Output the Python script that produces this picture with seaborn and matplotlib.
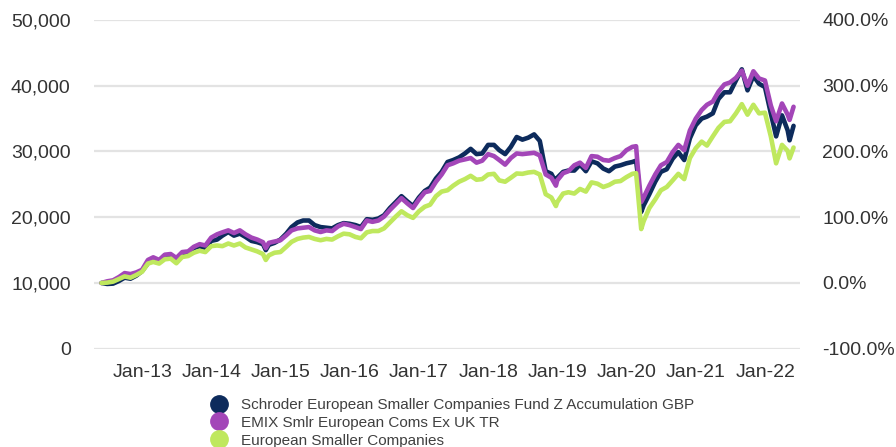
import matplotlib
matplotlib.use("Agg")
import matplotlib.pyplot as plt
from matplotlib.ticker import FuncFormatter, FixedLocator
from matplotlib.lines import Line2D
import pandas as pd
import seaborn as sns

dates = [
    "2012-05-31", "2012-06-30", "2012-07-31", "2012-08-31", "2012-09-30", "2012-10-31", "2012-11-30", "2012-12-31",
    "2013-01-31", "2013-02-28", "2013-03-31", "2013-04-30", "2013-05-31", "2013-06-30", "2013-07-31", "2013-08-31",
    "2013-09-30", "2013-10-31", "2013-11-30", "2013-12-31",
    "2014-01-31", "2014-02-28", "2014-03-31", "2014-04-30", "2014-05-31", "2014-06-30", "2014-07-31", "2014-08-31",
    "2014-09-30", "2014-10-15", "2014-10-31", "2014-11-30", "2014-12-31",
    "2015-01-31", "2015-02-28", "2015-03-31", "2015-04-30", "2015-05-31", "2015-06-30", "2015-07-31", "2015-08-31",
    "2015-09-30", "2015-10-31", "2015-11-30", "2015-12-31",
    "2016-01-31", "2016-02-29", "2016-03-31", "2016-04-30", "2016-05-31", "2016-06-30", "2016-07-31", "2016-08-31",
    "2016-09-30", "2016-10-31", "2016-11-30", "2016-12-31",
    "2017-01-31", "2017-02-28", "2017-03-31", "2017-04-30", "2017-05-31", "2017-06-30", "2017-07-31", "2017-08-31",
    "2017-09-30", "2017-10-31", "2017-11-30", "2017-12-31",
    "2018-01-31", "2018-02-28", "2018-03-31", "2018-04-30", "2018-05-31", "2018-06-30", "2018-07-31", "2018-08-31",
    "2018-09-30", "2018-10-31", "2018-11-30", "2018-12-24", "2018-12-31",
    "2019-01-31", "2019-02-28", "2019-03-31", "2019-04-30", "2019-05-31", "2019-06-30", "2019-07-31", "2019-08-31",
    "2019-09-30", "2019-10-31", "2019-11-30", "2019-12-31",
    "2020-01-31", "2020-02-20", "2020-02-29", "2020-03-18", "2020-03-31", "2020-04-30", "2020-05-31", "2020-06-30",
    "2020-07-31", "2020-08-31", "2020-09-30", "2020-10-31", "2020-11-30", "2020-12-31",
    "2021-01-31", "2021-02-28", "2021-03-31", "2021-04-30", "2021-05-31", "2021-06-30", "2021-07-31", "2021-08-31",
    "2021-09-30", "2021-10-31", "2021-11-30", "2021-12-31",
    "2022-01-31", "2022-02-28", "2022-03-31", "2022-04-30", "2022-05-10", "2022-05-31",
]

fund = [
    10.0, 9.85, 9.9, 10.3, 10.8, 10.65, 11.1, 11.8,
    13.0, 13.6, 13.3, 14.0, 14.2, 13.6, 14.5, 14.6, 15.3, 15.6, 15.3, 16.4,
    16.6, 17.2, 17.75, 17.2, 17.5, 17.0, 16.4, 16.2, 15.9, 15.0, 15.8, 16.1, 16.6,
    17.5, 18.5, 19.2, 19.5, 19.5, 18.8, 18.5, 18.4, 18.3, 18.8, 19.1, 19.0,
    18.8, 18.5, 19.7, 19.6, 19.8, 20.3, 21.4, 22.3, 23.2, 22.4, 21.7, 23.0,
    24.0, 24.5, 25.9, 26.9, 28.4, 28.7, 29.1, 29.7, 30.4, 29.6, 29.7, 31.0,
    31.0, 30.2, 29.6, 30.7, 32.2, 31.8, 32.1, 32.6, 31.6, 27.0, 26.6, 25.3, 26.0,
    26.9, 27.1, 27.1, 28.0, 27.0, 28.5, 28.2, 27.4, 27.0, 27.7, 27.9, 28.2,
    28.4, 28.6, 26.5, 20.8, 21.8, 23.5, 25.4, 26.9, 27.3, 28.9, 29.9, 28.7, 32.0, 34.0,
    35.0, 35.3, 35.8, 38.0, 39.0, 39.0, 40.8, 42.5, 39.3, 41.5, 40.3, 39.8,
    35.8, 32.3, 35.5, 33.2, 31.7, 33.9,
]

index = [
    10.0, 10.25, 10.4, 10.9, 11.5, 11.35, 11.6, 12.0,
    13.5, 13.9, 13.5, 14.3, 14.4, 13.8, 14.7, 14.8, 15.5, 15.9, 15.7, 16.9,
    17.4, 17.7, 18.0, 17.6, 18.0, 17.4, 16.9, 16.6, 16.2, 15.3, 16.1, 16.3, 16.5,
    17.25, 18.0, 18.3, 18.4, 18.5, 18.0, 17.75, 18.0, 17.9, 18.6, 19.0, 18.8,
    18.5, 18.2, 19.5, 19.3, 19.5, 20.1, 21.1, 22.0, 22.9, 22.1, 21.4, 22.7,
    23.8, 24.0, 25.4, 26.5, 27.9, 28.2, 28.6, 28.8, 29.0, 28.3, 28.6, 29.6,
    29.3, 28.7, 28.0, 29.0, 29.7, 29.6, 29.7, 29.8, 29.4, 26.5, 26.0, 24.8, 25.6,
    26.7, 27.0, 27.9, 28.3, 27.5, 29.3, 29.2, 28.7, 28.6, 29.0, 29.3, 30.2,
    30.7, 30.8, 27.5, 22.3, 23.0, 24.8, 26.5, 27.9, 28.4, 29.9, 31.0, 30.2, 33.2, 35.0,
    36.3, 37.1, 37.6, 39.1, 40.2, 40.5, 41.2, 42.3, 40.0, 42.2, 41.1, 40.8,
    37.0, 34.6, 37.3, 35.6, 34.8, 36.8,
]

sector = [
    10.0, 10.05, 10.2, 10.6, 11.0, 10.8, 11.2, 11.7,
    12.95, 13.2, 12.95, 13.6, 13.7, 13.0, 13.95, 14.1, 14.6, 14.9, 14.7, 15.6,
    15.7, 15.6, 16.0, 15.7, 16.0, 15.4, 15.1, 14.8, 14.4, 13.5, 14.2, 14.6, 14.7,
    15.5, 16.25, 16.7, 16.9, 17.0, 16.7, 16.5, 16.7, 16.6, 17.1, 17.5, 17.4,
    17.0, 16.8, 17.7, 17.9, 17.9, 18.3, 19.2, 20.1, 20.9, 20.3, 19.9, 20.9,
    21.6, 21.9, 23.2, 23.9, 24.1, 24.8, 25.4, 25.8, 26.3, 25.7, 25.8, 26.5,
    26.6, 25.6, 25.4, 26.0, 26.65, 26.6, 26.8, 26.9, 26.5, 23.5, 23.0, 21.7, 22.3,
    23.6, 23.8, 23.6, 24.3, 23.9, 25.3, 25.1, 24.6, 24.9, 25.4, 25.5, 26.1,
    26.6, 26.7, 24.0, 18.2, 19.4, 21.4, 22.7, 24.1, 24.6, 25.6, 26.6, 25.8, 29.0, 30.5,
    31.5, 30.9, 32.3, 33.6, 34.5, 34.6, 35.8, 37.2, 35.6, 37.1, 35.8, 35.9,
    32.3, 28.2, 31.0, 30.1, 28.95, 30.6,
]

series_names = [
    "Schroder European Smaller Companies Fund Z Accumulation GBP",
    "EMIX Smlr European Coms Ex UK TR",
    "European Smaller Companies",
]
colors = ["#0d2b5c", "#a346b8", "#bfe85e"]
left_ticks = [0, 10000, 20000, 30000, 40000, 50000]
right_ticks = [-100, 0, 100, 200, 300, 400]
tick_years = [2013, 2014, 2015, 2016, 2017, 2018, 2019, 2020, 2021, 2022]

sns.set_theme(style="white")
plt.rcParams["font.family"] = ["Liberation Sans", "DejaVu Sans"]

frames = []
for name, vals in zip(series_names, [fund, index, sector]):
    frames.append(pd.DataFrame({
        "date": pd.to_datetime(dates),
        "value": [v * 1000 for v in vals],
        "series": name,
    }))
df = pd.concat(frames, ignore_index=True)

W, H = 896, 447
fig = plt.figure(figsize=(W / 100, H / 100), dpi=100)
left_px, right_px, top_px, bottom_px = 94.3, 800, 20, 348.7
ax = fig.add_axes([left_px / W, 1 - bottom_px / H, (right_px - left_px) / W, (bottom_px - top_px) / H])

sns.lineplot(data=df, x="date", y="value", hue="series", hue_order=series_names,
             palette=dict(zip(series_names, colors)), linewidth=3.3,
             estimator=None, sort=False, legend=False, ax=ax)

text_color = "#333333"
ax.set_ylim(0, 50000)
ax.set_xlim(pd.Timestamp("2012-04-23"), pd.Timestamp("2022-07-04"))
ax.yaxis.set_major_locator(FixedLocator(left_ticks))
ax.yaxis.set_major_formatter(FuncFormatter(lambda v, p: f"{int(v):,}"))
ax.xaxis.set_major_locator(FixedLocator([matplotlib.dates.date2num(pd.Timestamp(f"{y}-01-01")) for y in tick_years]))
ax.xaxis.set_major_formatter(FuncFormatter(lambda v, p: matplotlib.dates.num2date(v).strftime("%b-%y")))
ax.set_xlabel("")
ax.set_ylabel("")
ax.grid(False)
ax.yaxis.grid(True, color="#e3e3e3", linewidth=1.6)
ax.set_axisbelow(True)
for s in ax.spines.values():
    s.set_visible(False)
ax.tick_params(axis="both", length=0, labelsize=14, colors=text_color)
ax.tick_params(axis="y", pad=17)
ax.tick_params(axis="x", pad=11)

ax2 = ax.twinx()
ax2.set_ylim(-100, 400)
ax2.yaxis.set_major_locator(FixedLocator(right_ticks))
ax2.yaxis.set_major_formatter(FuncFormatter(lambda v, p: f"{v:.1f}%"))
for s in ax2.spines.values():
    s.set_visible(False)
ax2.grid(False)
ax2.tick_params(axis="y", length=0, labelsize=14, colors=text_color, pad=16)

handles = [Line2D([], [], marker="o", linestyle="", markersize=12.5, color=c) for c in colors]
fig.legend(handles, series_names, loc="upper left", bbox_to_anchor=(211 / W, 1 - 398 / H),
           frameon=False, fontsize=11, labelspacing=0.25, handlelength=1.0, handletextpad=0.95,
           borderpad=0, borderaxespad=0, labelcolor="#404040")

fig.savefig("out.png", dpi=100)
